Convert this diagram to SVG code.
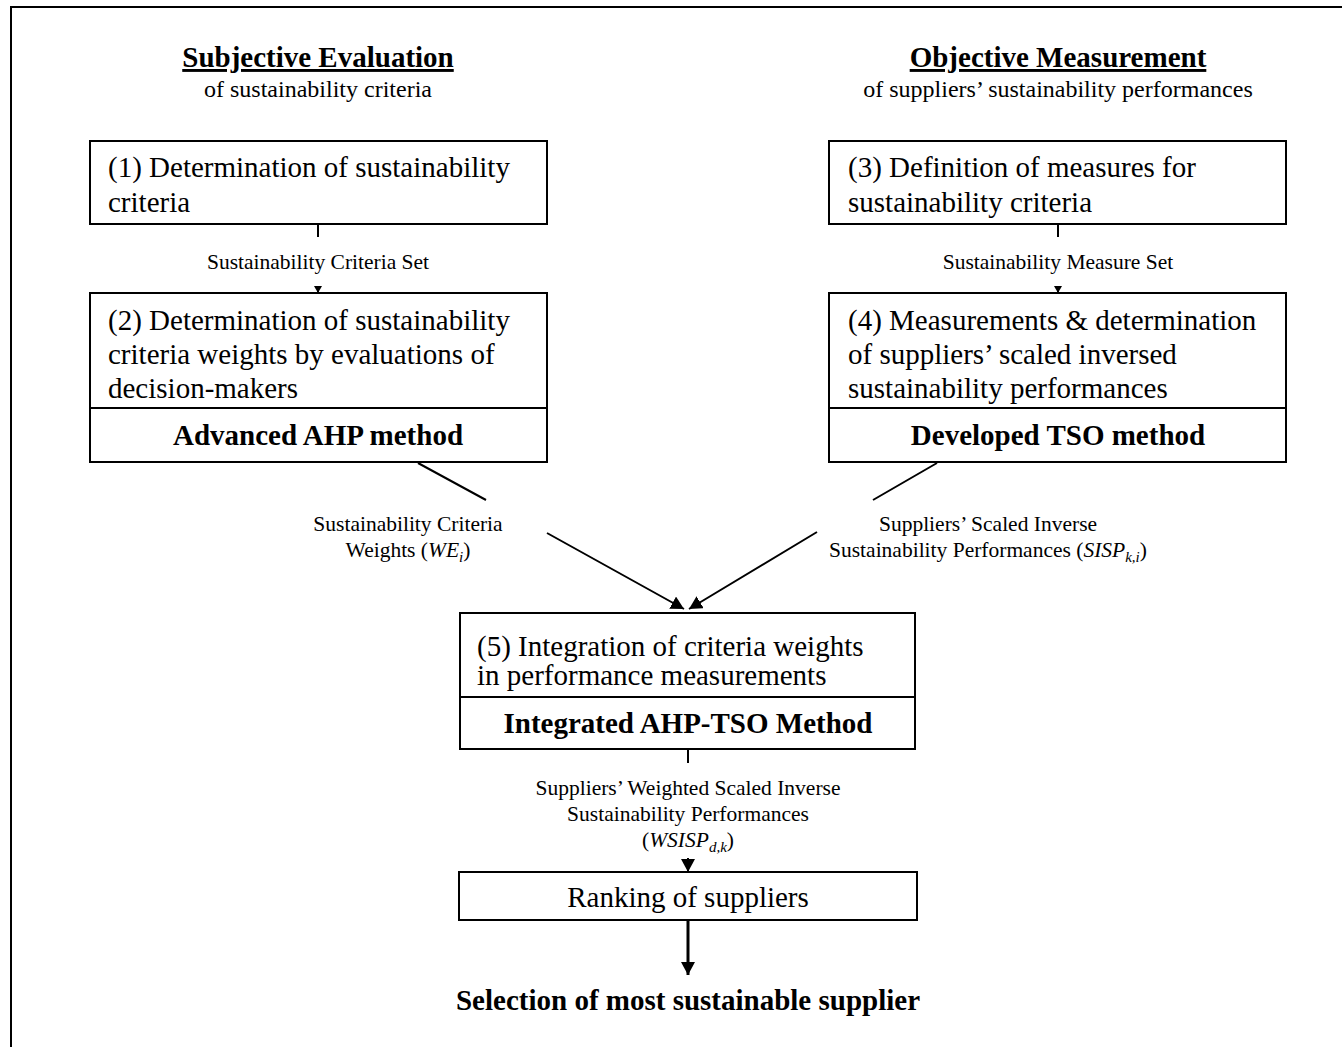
<svg xmlns="http://www.w3.org/2000/svg" width="1342" height="1047" viewBox="0 0 1342 1047">
<style>
text{font-family:"Liberation Serif","Times New Roman",serif;fill:#000}
.box{fill:#fff;stroke:#000;stroke-width:2}
.t{font-size:29px}
.b{font-size:29px;font-weight:bold}
.h{font-size:29px;font-weight:bold;text-decoration:underline}
.sub{font-size:24px}
.lbl{font-size:21.5px}
.m{font-style:italic}
.s{font-size:15px;font-style:italic}
.c{text-anchor:middle}
.ln{stroke:#000;stroke-width:2;fill:none}
</style>
<defs>
<marker id="aS" markerUnits="userSpaceOnUse" markerWidth="8" markerHeight="8" refX="7" refY="4" orient="auto"><path d="M0,0 L7,4 L0,8 z" fill="#000"/></marker>
<marker id="aL" markerUnits="userSpaceOnUse" markerWidth="14" markerHeight="14" refX="13" refY="7" orient="auto"><path d="M0,0 L13,7 L0,14 z" fill="#000"/></marker>
</defs>
<rect x="11" y="7" width="1345" height="1060" fill="#fff" stroke="#000" stroke-width="2"/>
<g id="heading-left">
<text class="h c" x="318" y="67">Subjective Evaluation</text>
<text class="sub c" x="318" y="97">of sustainability criteria</text>
</g>
<g id="heading-right">
<text class="h c" x="1058" y="67">Objective Measurement</text>
<text class="sub c" x="1058" y="97">of suppliers’ sustainability performances</text>
</g>
<g id="connectors">
<path class="ln" d="M318,224 V237 M318,286 V293" marker-end="url(#aS)"/>
<path class="ln" d="M1058,224 V237 M1058,286 V293" marker-end="url(#aS)"/>
<path class="ln" d="M418,463 L486,500 M547,533 L684,609" marker-end="url(#aL)"/>
<path class="ln" d="M937,463 L873,500 M817,532 L689,609" marker-end="url(#aL)"/>
<path class="ln" d="M688,749 V763 M688,858 V872" marker-end="url(#aL)"/>
<path class="ln" d="M688,920 V975" style="stroke-width:3" marker-end="url(#aL)"/>
</g>
<g id="node1">
<rect class="box" x="90" y="141" width="457" height="83"/>
<text class="t" x="108" y="177">(1) Determination of sustainability</text>
<text class="t" x="108" y="212">criteria</text>
</g>
<g id="node2">
<rect class="box" x="90" y="293" width="457" height="169"/>
<line class="ln" x1="90" y1="408" x2="547" y2="408"/>
<text class="t" x="108" y="330">(2) Determination of sustainability</text>
<text class="t" x="108" y="364">criteria weights by evaluations of</text>
<text class="t" x="108" y="398">decision-makers</text>
<text class="b c" x="318" y="445">Advanced AHP method</text>
</g>
<g id="node3">
<rect class="box" x="829" y="141" width="457" height="83"/>
<text class="t" x="848" y="177">(3) Definition of measures for</text>
<text class="t" x="848" y="212">sustainability criteria</text>
</g>
<g id="node4">
<rect class="box" x="829" y="293" width="457" height="169"/>
<line class="ln" x1="829" y1="408" x2="1286" y2="408"/>
<text class="t" x="848" y="330">(4) Measurements &amp; determination</text>
<text class="t" x="848" y="364">of suppliers’ scaled inversed</text>
<text class="t" x="848" y="398">sustainability performances</text>
<text class="b c" x="1058" y="445">Developed TSO method</text>
</g>
<g id="node5">
<rect class="box" x="460" y="613" width="455" height="136"/>
<line class="ln" x1="460" y1="697" x2="915" y2="697"/>
<text class="t" x="477" y="656">(5) Integration of criteria weights</text>
<text class="t" x="477" y="685">in performance measurements</text>
<text class="b c" x="688" y="733">Integrated AHP-TSO Method</text>
</g>
<g id="node6">
<rect class="box" x="459" y="872" width="458" height="48"/>
<text class="t c" x="688" y="907">Ranking of suppliers</text>
</g>
<g id="labels">
<text class="lbl c" x="318" y="269">Sustainability Criteria Set</text>
<text class="lbl c" x="1058" y="269">Sustainability Measure Set</text>
<text class="lbl c" x="408" y="531">Sustainability Criteria</text>
<text class="lbl c" x="408" y="557">Weights (<tspan class="m">WE</tspan><tspan class="s" dy="5">i</tspan><tspan dy="-5">)</tspan></text>
<text class="lbl c" x="988" y="531">Suppliers’ Scaled Inverse</text>
<text class="lbl c" x="988" y="557">Sustainability Performances (<tspan class="m">SISP</tspan><tspan class="s" dy="5">k,i</tspan><tspan dy="-5">)</tspan></text>
<text class="lbl c" x="688" y="795">Suppliers’ Weighted Scaled Inverse</text>
<text class="lbl c" x="688" y="821">Sustainability Performances</text>
<text class="lbl c" x="688" y="847">(<tspan class="m">WSISP</tspan><tspan class="s" dy="5">d,k</tspan><tspan dy="-5">)</tspan></text>
</g>
<g id="result">
<text class="b c" x="688" y="1010">Selection of most sustainable supplier</text>
</g>
</svg>
